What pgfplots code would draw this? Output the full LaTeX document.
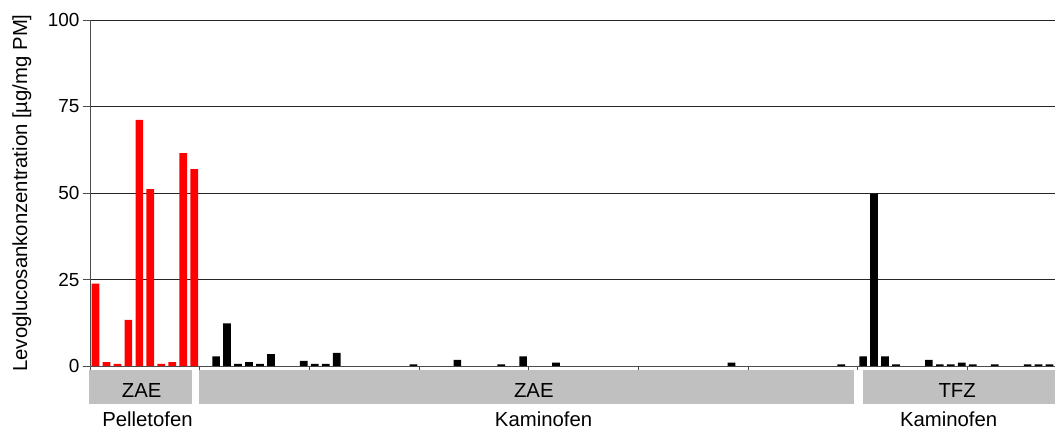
\documentclass[border=0pt]{standalone}
\usepackage{pgfplots}
\pgfplotsset{compat=1.18}
\usepackage{fontspec}
\setmainfont{Liberation Sans}
\definecolor{boxgray}{RGB}{192,192,192}
\definecolor{barred}{RGB}{255,0,0}
\begin{document}
\begin{tikzpicture}
\begin{axis}[
  scale only axis, width=965bp, height=346bp,
  xmin=0, xmax=88, ymin=0, ymax=100,
  ybar, bar width=0.7,
  axis x line*=bottom, axis y line*=left,
  axis line style={black!70, line width=0.8bp, -},
  ytick={0,25,50,75,100}, ymajorgrids,
  grid style={black!85, line width=0.7bp},
  xtick={0,10,...,80}, xticklabels={},
  tick align=outside, tick style={black!70, line width=0.8bp},
  major tick length=7bp,
  xtick style={/pgfplots/major tick length=4bp},
  tick label style={font=\fontsize{19}{22}\selectfont},
  /pgf/number format/assume math mode=true,
  ylabel={Levoglucosankonzentration [µg/mg PM]},
  ylabel style={font=\fontsize{20.4}{24}\selectfont, at={(axis description cs:-0.0705,0.5)}, anchor=center},
  clip=false,
]
% Pelletofen (ZAE)
\addplot[fill=barred, draw=none, bar shift=0pt] coordinates {
  (0.5,23.8)(1.5,1.1)(2.5,0.6)(3.5,13.3)(4.5,71.1)
  (5.5,51.1)(6.5,0.6)(7.5,1.1)(8.5,61.5)(9.5,56.9)};
% Kaminofen (ZAE, TFZ)
\addplot[fill=black, draw=none, bar shift=0pt] coordinates {
  (11.5,2.8)(12.5,12.3)(13.5,0.6)(14.5,1.1)(15.5,0.6)(16.5,3.4)
  (19.5,1.5)(20.5,0.6)(21.5,0.6)(22.5,3.8)
  (29.5,0.5)(33.5,1.8)(37.5,0.5)(39.5,2.8)(42.5,1.0)
  (58.5,1.0)(68.5,0.5)
  (70.5,2.8)(71.5,49.8)(72.5,2.8)(73.5,0.5)
  (76.5,1.8)(77.5,0.5)(78.5,0.5)(79.5,1.0)(80.5,0.5)
  (82.5,0.5)(85.5,0.5)(86.5,0.5)(87.5,0.5)};

% group boxes below the axis
\fill[boxgray] ([yshift=-4bp]axis cs:-0.1,0) rectangle ([yshift=-38bp]axis cs:9.27,0);
\fill[boxgray] ([yshift=-4bp]axis cs:9.94,0) rectangle ([yshift=-38bp]axis cs:69.7,0);
\fill[boxgray] ([yshift=-4bp]axis cs:70.5,0) rectangle ([yshift=-38bp]axis cs:88,0);
\begin{scope}[every node/.style={font=\fontsize{20.4}{24}\selectfont, anchor=base, inner sep=0pt}]
\node at ([yshift=-31bp]axis cs:4.71,0) {ZAE};
\node at ([yshift=-31bp]axis cs:40.47,0) {ZAE};
\node at ([yshift=-31bp]axis cs:79.08,0) {TFZ};
\node at ([yshift=-60bp]axis cs:5.24,0) {Pelletofen};
\node at ([yshift=-60bp]axis cs:41.36,0) {Kaminofen};
\node at ([yshift=-60bp]axis cs:78.3,0) {Kaminofen};
\end{scope}
\end{axis}
\pgfresetboundingbox
\path ([shift={(-90bp,-66bp)}]current axis.south west) rectangle ([shift={(0bp,20bp)}]current axis.north east);
\end{tikzpicture}
\end{document}
